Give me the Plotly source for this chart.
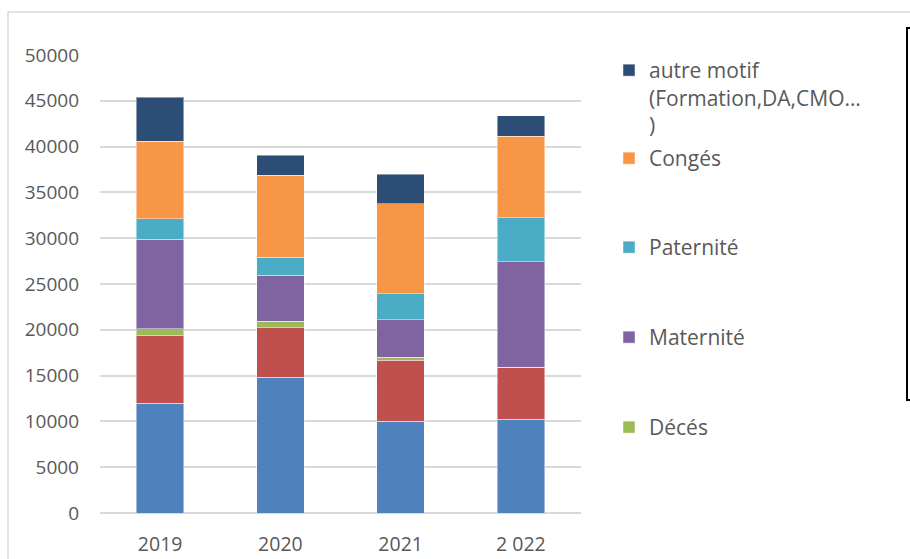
import plotly.graph_objects as go

# Absence days per year, stacked by motive (bottom to top)
years = ["2019", "2020", "2021", "2 022"]
maladie = [12000, 14800, 10000, 10250]
accident = [7400, 5400, 6700, 5650]
deces = [700, 750, 300, 0]
maternite = [9800, 5000, 4100, 11550]
paternite = [2200, 1950, 2850, 4800]
conges = [8500, 8950, 9800, 8900]
autre = [4800, 2200, 3250, 2200]

y_ticks = [0, 5000, 10000, 15000, 20000, 25000, 30000, 35000, 40000, 45000, 50000]

W, H = 910, 559
ML, MR, MT, MB = 100, 329, 55, 46
PW, PH = W - ML - MR, H - MT - MB

TXT = "#595959"
FONT = "Open Sans"


def px_x(x):
    return (x - ML) / PW


def px_y(y):
    return (H - MB - y) / PH


series = [
    ("Maladie", maladie, "#4F81BD", None),
    ("Accident de travail", accident, "#C0504D", None),
    ("Décés", deces, "#9BBB59", ("legend5", 427)),
    ("Maternité", maternite, "#8064A2", ("legend4", 337)),
    ("Paternité", paternite, "#4BACC6", ("legend3", 247)),
    ("Congés", conges, "#F79646", ("legend2", 158)),
    ("autre motif<br>(Formation,DA,CMO…<br>)", autre, "#2C4D75", ("legend", 70)),
]

fig = go.Figure()
layout_legends = {}
for name, vals, color, leg in series:
    tr = dict(
        x=years, y=vals, name=name,
        marker=dict(color=color, line=dict(color="rgba(255,255,255,0.45)", width=1)),
    )
    if leg is None:
        tr["showlegend"] = False
    else:
        key, ypx = leg
        tr["legend"] = key
        layout_legends[key] = dict(
            xref="container", yref="container",
            x=609 / W, y=1 - (ypx - 20) / H,
            xanchor="left", yanchor="top",
            valign="top",
            bgcolor="rgba(0,0,0,0)",
            font=dict(family=FONT, size=21, color=TXT),
        )
    fig.add_trace(go.Bar(**tr))

fig.update_layout(
    width=W, height=H,
    margin=dict(l=ML, r=MR, t=MT, b=MB),
    barmode="stack",
    bargap=0.603,
    paper_bgcolor="white",
    plot_bgcolor="white",
    font=dict(family=FONT, color=TXT),
    **layout_legends,
)

fig.update_xaxes(
    automargin=False,
    showgrid=False,
    showline=False,
    ticks="",
    tickfont=dict(family=FONT, size=19.5, color=TXT),
    ticklabelstandoff=17,
)
fig.update_yaxes(
    automargin=False,
    range=[0, 50000],
    tickvals=y_ticks,
    ticktext=[str(v) for v in y_ticks],
    showgrid=True,
    gridcolor="#d9d9d9",
    gridwidth=1.5,
    zeroline=True,
    zerolinecolor="#d9d9d9",
    zerolinewidth=2,
    showline=False,
    ticks="",
    tickfont=dict(family=FONT, size=19, color=TXT),
    ticklabelstandoff=20,
)

# Chart frame
fig.add_shape(
    type="rect", xref="paper", yref="paper", layer="below",
    x0=px_x(8), x1=px_x(916), y0=px_y(566), y1=px_y(12),
    line=dict(color="#d9d9d9", width=1.5),
    fillcolor="rgba(0,0,0,0)",
)

# Bracket of the side text box
fig.add_shape(
    type="path", xref="paper", yref="paper",
    path=(
        f"M {px_x(911)},{px_y(28)} L {px_x(907)},{px_y(28)} "
        f"L {px_x(907)},{px_y(400)} L {px_x(911)},{px_y(400)}"
    ),
    line=dict(color="black", width=2),
)

fig.write_html("out.html")
